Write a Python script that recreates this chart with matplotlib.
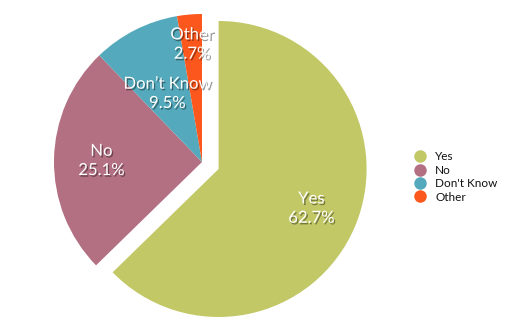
import matplotlib
matplotlib.use("Agg")
from matplotlib import pyplot as plt
from matplotlib.lines import Line2D
import matplotlib.patheffects as pe
import numpy as np

labels = ["Yes", "No", "Don\u2019t Know", "Other"]
legend_labels = ["Yes", "No", "Don't Know", "Other"]
shares = [62.7, 25.1, 9.5, 2.7]
colors = ["#C2C866", "#B37083", "#54AABC", "#FC581D"]

# label placement (fraction of radius) per slice
label_dist = [0.68, 0.68, 0.52, 0.80]

plt.rcParams['font.family'] = ['Lato', 'DejaVu Sans']

fig = plt.figure(figsize=(5.13, 3.22), dpi=100)
ax = fig.add_axes([0, 0, 1, 1])

wedges, _ = ax.pie(shares, colors=colors, startangle=90, counterclock=False,
                   center=(202, 160), radius=148, explode=[18, 0, 0, 0],
                   wedgeprops=dict(linewidth=0))
ax.set_xlim(0, 513)
ax.set_ylim(0, 322)
ax.set_aspect('equal')
ax.axis('off')

shadow = [pe.withSimplePatchShadow(offset=(1, -1.2), shadow_rgbFace='black', alpha=0.4)]
for w, lab, val, d in zip(wedges, labels, shares, label_dist):
    ang = np.deg2rad((w.theta1 + w.theta2) / 2)
    cx, cy = w.center
    x = cx + d * w.r * np.cos(ang)
    y = cy + d * w.r * np.sin(ang)
    ax.text(x, y, "%s\n%.1f%%" % (lab, val), ha="center", va="center",
            color="white", fontsize=12, linespacing=1.25, path_effects=shadow)

handles = [Line2D([], [], marker='o', linestyle='', markersize=9,
                  markerfacecolor=c, markeredgewidth=0) for c in colors]
ax.legend(handles, legend_labels, loc="center left", bbox_to_anchor=(407 / 513, 1 - 177 / 322),
          frameon=False, fontsize=8.5, labelspacing=0.2, handletextpad=0.7,
          handlelength=1.2, borderpad=0, labelcolor="#111111")

fig.savefig("out.png", dpi=100)
